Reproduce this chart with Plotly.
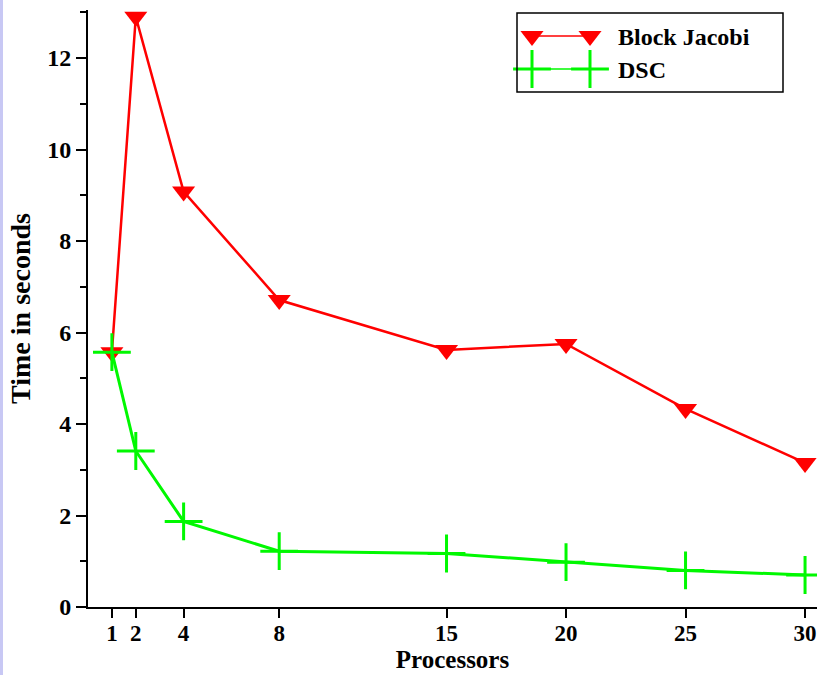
import plotly.graph_objects as go

processors = [1, 2, 4, 8, 15, 20, 25, 30]
block_jacobi = [5.57, 12.9, 9.08, 6.71, 5.62, 5.75, 4.33, 3.15]
dsc = [5.57, 3.41, 1.87, 1.22, 1.17, 0.98, 0.80, 0.70]
x_ticks = [1, 2, 4, 8, 15, 20, 25, 30]
y_ticks = [0, 2, 4, 6, 8, 10, 12]
series_names = ["Block Jacobi", "DSC"]

RED = "#ff0000"
GREEN = "#00f800"
FONT = "Liberation Serif"

fig = go.Figure()
fig.add_trace(go.Scatter(
    x=processors, y=block_jacobi, mode="lines+markers", name=series_names[0],
    line=dict(color=RED, width=2.5),
    marker=dict(symbol="triangle-down", size=20, color=RED),
    showlegend=False))
fig.add_trace(go.Scatter(
    x=processors, y=dsc, mode="lines+markers", name=series_names[1],
    line=dict(color=GREEN, width=3),
    marker=dict(symbol="cross-thin", size=27, line=dict(color=GREEN, width=3)),
    showlegend=False))

# custom legend in an overlay axis (pixel-like coordinates of the plot area)
fig.add_trace(go.Scatter(
    x=[532, 590], y=[36, 36], mode="lines+markers", xaxis="x2", yaxis="y2",
    line=dict(color=RED, width=1.5),
    marker=dict(symbol="triangle-down", size=20, color=RED),
    showlegend=False, hoverinfo="skip"))
fig.add_trace(go.Scatter(
    x=[518, 605], y=[69, 69], mode="lines", xaxis="x2", yaxis="y2",
    line=dict(color=GREEN, width=1.5), showlegend=False, hoverinfo="skip"))
fig.add_trace(go.Scatter(
    x=[532, 590], y=[69, 69], mode="markers", xaxis="x2", yaxis="y2",
    marker=dict(symbol="cross-thin", size=27, line=dict(color=GREEN, width=3)),
    showlegend=False, hoverinfo="skip"))

fig.add_shape(type="rect", xref="x2", yref="y2", x0=517, x1=783, y0=13, y1=92,
              line=dict(color="black", width=1.5), fillcolor="rgba(0,0,0,0)")
for name, yy in zip(series_names, [37, 70]):
    fig.add_annotation(xref="x2", yref="y2", x=616, y=yy, text="<b>%s</b>" % name,
                       showarrow=False, xanchor="left", yanchor="middle",
                       font=dict(family=FONT, size=24, color="black"))

# lavender strip on left edge of the page
fig.add_shape(type="rect", xref="paper", yref="paper", x0=-0.125, x1=-0.1166, y0=-0.2, y1=1.1,
              line=dict(width=0), fillcolor="#c8c8f4", layer="below")

fig.update_layout(
    width=817, height=675,
    margin=dict(l=88, r=0, t=10, b=68),
    paper_bgcolor="white", plot_bgcolor="white",
    font=dict(family=FONT, size=24, color="black"),
    xaxis=dict(range=[0, 30.5], tickmode="array", tickvals=x_ticks,
               ticktext=["<b>%d</b>" % v for v in x_ticks],
               showgrid=False, zeroline=False, showline=True, linecolor="black", linewidth=2,
               ticks="outside", ticklen=9, tickwidth=2, tickcolor="black",
               tickfont=dict(family=FONT, size=23), ticklabeloverflow="allow",
               ticklabelstandoff=-5,
               title=dict(text="<b>Processors</b>", font=dict(family=FONT, size=25), standoff=2)),
    yaxis=dict(range=[0, 13.05], tickmode="array", tickvals=y_ticks,
               ticktext=["<b>%d</b>" % v for v in y_ticks],
               showgrid=False, zeroline=False, showline=True, linecolor="black", linewidth=2,
               ticks="outside", ticklen=10, tickwidth=2, tickcolor="black",
               tickfont=dict(family=FONT, size=24),
               minor=dict(dtick=1, ticks="outside", ticklen=6, tickwidth=2, tickcolor="black", showgrid=False),
               title=dict(text="<b>Time in seconds</b>", font=dict(family=FONT, size=28), standoff=8)),
    xaxis2=dict(range=[88, 817], overlaying="x", visible=False, fixedrange=True),
    yaxis2=dict(range=[607, 10], overlaying="y", visible=False, fixedrange=True),
)

fig.write_html("out.html", config={"displayModeBar": False},
               post_script="document.body.style.margin='0px';")
